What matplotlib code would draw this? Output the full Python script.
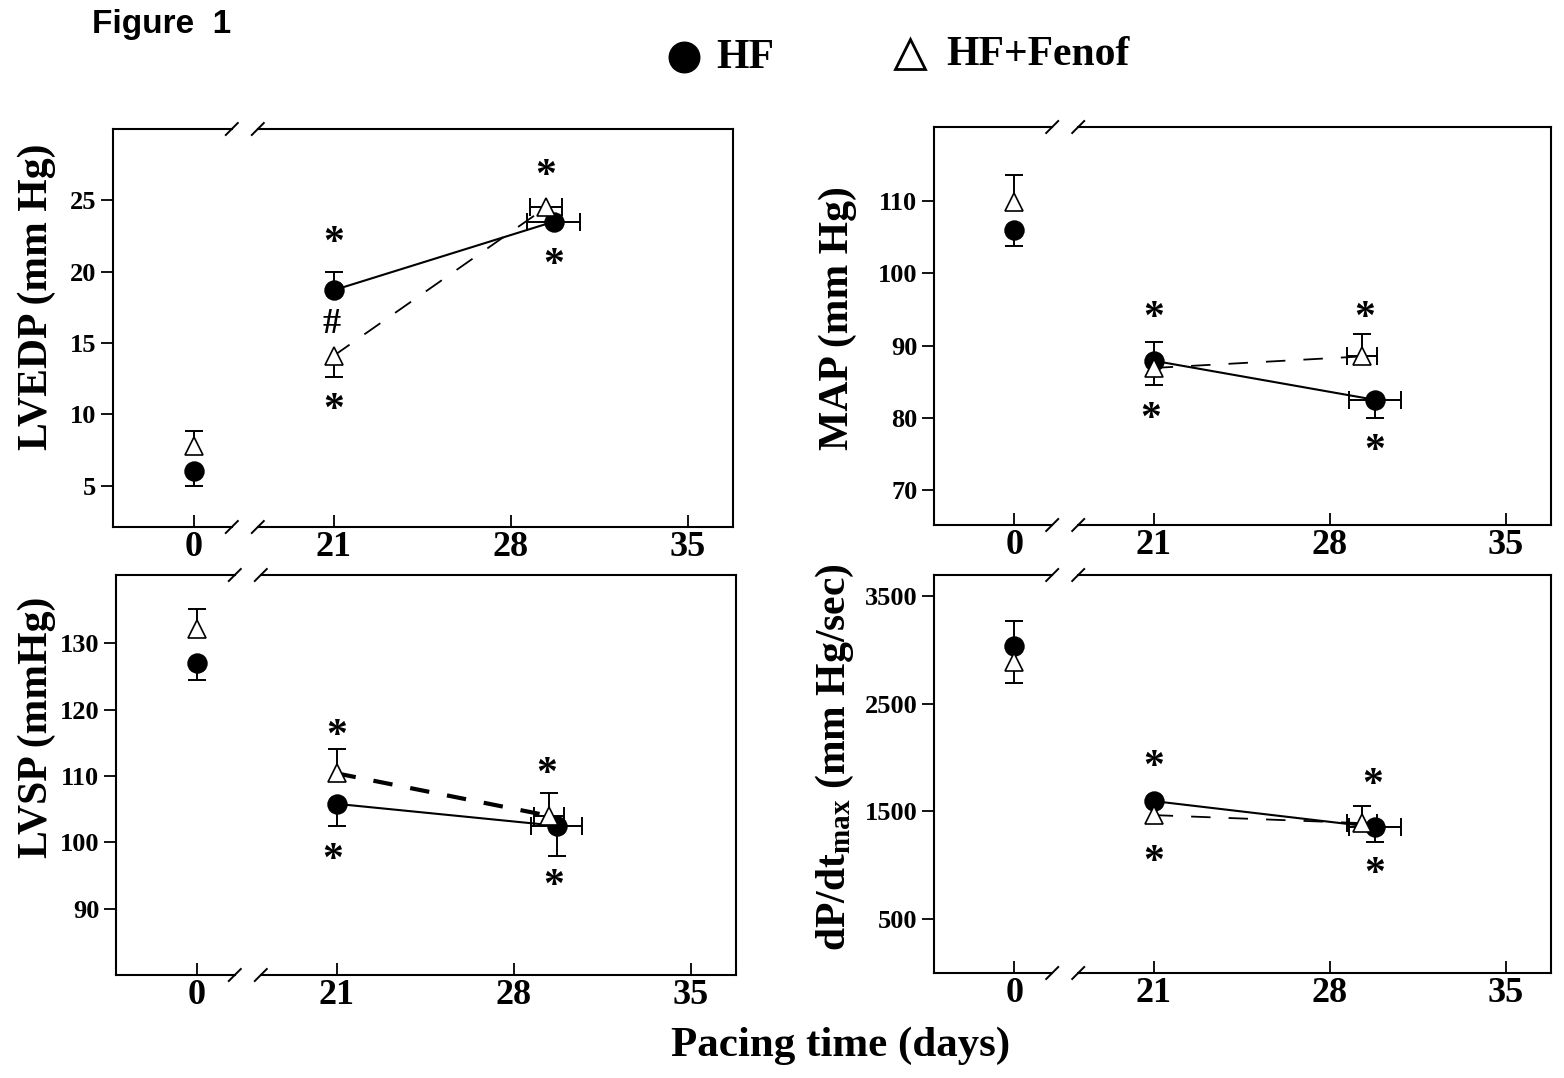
import matplotlib
matplotlib.use('Agg')
import matplotlib.pyplot as plt
from matplotlib.lines import Line2D

plt.rcParams['font.family'] = 'Liberation Serif'
plt.rcParams['font.weight'] = 'bold'
plt.rcParams['mathtext.fontset'] = 'custom'
plt.rcParams['mathtext.rm'] = 'Liberation Serif:bold'
plt.rcParams['mathtext.it'] = 'Liberation Serif:bold'
plt.rcParams['mathtext.bf'] = 'Liberation Serif:bold'

W, H = 1564, 1078

#%% Datos
# LVEDP
lvedp_dias_hf = [0, 21, 29.7]
lvedp_hf = [6.0, 18.7, 23.5]
lvedp_hf_lo = [1.0, 0, 0]
lvedp_hf_up = [0, 1.3, 0]
lvedp_hf_xe = [0, 0, 1.05]
lvedp_dias_fen = [0, 21, 29.4]
lvedp_fen = [7.8, 14.1, 24.5]
lvedp_fen_lo = [0, 1.5, 0]
lvedp_fen_up = [1.0, 0, 0]
lvedp_fen_xe = [0, 0, 0.65]

# MAP
map_dias_hf = [0, 21, 29.8]
map_hf = [106.0, 87.9, 82.5]
map_hf_lo = [2.3, 0, 2.5]
map_hf_up = [0, 2.6, 0]
map_hf_xe = [0, 0, 1.05]
map_dias_fen = [0, 21, 29.3]
map_fen = [109.8, 86.9, 88.5]
map_fen_lo = [0, 2.3, 0]
map_fen_up = [3.7, 0, 3.1]
map_fen_xe = [0, 0, 0.6]

# LVSP
lvsp_dias_hf = [0, 21, 29.7]
lvsp_hf = [127.0, 105.8, 102.5]
lvsp_hf_lo = [2.6, 3.3, 4.6]
lvsp_hf_up = [0, 0, 0]
lvsp_hf_xe = [0, 0, 1.0]
lvsp_dias_fen = [0, 21, 29.4]
lvsp_fen = [132.1, 110.4, 104.0]
lvsp_fen_lo = [0, 0, 0]
lvsp_fen_up = [3.0, 3.6, 3.4]
lvsp_fen_xe = [0, 0, 0.6]

# dP/dt max
dpdt_dias_hf = [0, 21, 29.8]
dpdt_hf = [3035, 1596, 1354]
dpdt_hf_lo = [0, 0, 140]
dpdt_hf_up = [230, 0, 0]
dpdt_hf_xe = [0, 0, 1.05]
dpdt_dias_fen = [0, 21, 29.3]
dpdt_fen = [2886, 1466, 1391]
dpdt_fen_lo = [190, 0, 0]
dpdt_fen_up = [0, 0, 158]
dpdt_fen_xe = [0, 0, 0.6]

# Marcas de significancia (x, y, simbolo)
lvedp_marcas = [(21, 22.5, '*'), (20.9, 16.3, '#'), (21, 10.8, '*'),
                (29.4, 27.2, '*'), (29.7, 21.0, '*')]
map_marcas = [(21, 94.8, '*'), (20.9, 80.8, '*'), (29.4, 94.8, '*'), (29.8, 76.4, '*')]
lvsp_marcas = [(21, 117.2, '*'), (20.85, 98.5, '*'), (29.3, 111.4, '*'), (29.6, 94.5, '*')]
dpdt_marcas = [(21, 1976, '*'), (21, 1094, '*'), (29.7, 1809, '*'), (29.8, 983, '*')]

xticks_izq = [0]
xticks_der = [21, 28, 35]

fig = plt.figure(figsize=(W / 100, H / 100), dpi=100)


def ejes(L, R, T, B, ylim, yticks):
    gap = 26
    w = R - L - gap
    wl = w * 4.7 / 23.5
    ax1 = fig.add_axes([L / W, 1 - B / H, wl / W, (B - T) / H])
    ax2 = fig.add_axes([(L + wl + gap) / W, 1 - B / H, (w - wl) / W, (B - T) / H], sharey=ax1)
    ax1.set_xlim(-3.2, 1.5)
    ax2.set_xlim(18, 36.8)
    ax1.set_ylim(*ylim)
    ax1.set_yticks(yticks)
    ax1.set_xticks(xticks_izq)
    ax2.set_xticks(xticks_der)
    ax1.spines['right'].set_visible(False)
    ax2.spines['left'].set_visible(False)
    for ax in (ax1, ax2):
        for s in ax.spines.values():
            s.set_linewidth(1.5)
        ax.tick_params(axis='x', direction='in', length=9, width=1.3, labelsize=26, pad=3)
        ax.tick_params(axis='y', direction='out', length=9, width=1.3, labelsize=19, pad=3)
    ax2.tick_params(axis='y', left=False, labelleft=False)
    # marcas de corte del eje
    for ax, xs in ((ax1, 1.0), (ax2, 0.0)):
        for yy in (0, 1):
            xd = 6.0 / ax.bbox.width
            yd = 6.0 / ax.bbox.height
            ax.plot([xs - xd, xs + xd], [yy - yd, yy + yd], transform=ax.transAxes,
                    color='k', lw=1.4, clip_on=False)
    return ax1, ax2


def barras(ax, x, y, lo, up, xe):
    if up > 0:
        ax.vlines(x, y, y + up, color='k', lw=1.4, zorder=2)
        ax.plot(x, y + up, marker='_', ms=13, mew=1.4, color='k', zorder=2)
    if lo > 0:
        ax.vlines(x, y - lo, y, color='k', lw=1.4, zorder=2)
        ax.plot(x, y - lo, marker='_', ms=13, mew=1.4, color='k', zorder=2)
    if xe > 0:
        ax.hlines(y, x - xe, x + xe, color='k', lw=1.4, zorder=2)
        ax.plot([x - xe, x + xe], [y, y], ls='none', marker='|', ms=13, mew=1.4,
                color='k', zorder=2)


def serie(ax1, ax2, dias, vals, lo, up, xe, marker, mfc, ls, lw):
    linea, = ax2.plot(dias[1:], vals[1:], color='k', ls=ls, lw=lw, zorder=3)
    if ls == '--':
        linea.set_dashes([14.0 / lw, 13.0 / lw])
    for i in range(len(dias)):
        ax = ax1 if dias[i] < 10 else ax2
        barras(ax, dias[i], vals[i], lo[i], up[i], xe[i])
        ax.plot(dias[i], vals[i], ls='none', marker=marker, ms=13.5 if marker == 'o' else 12.5,
                mfc=mfc, mec='k', mew=1.2, zorder=4)


def panel(frame, ylim, yticks, hf, fen, marcas, fen_lw, ylabel, ylab_xy):
    ax1, ax2 = ejes(*frame, ylim, yticks)
    serie(ax1, ax2, *hf, 'o', 'k', '-', 1.5)
    serie(ax1, ax2, *fen, '^', 'white', '--', fen_lw)
    for (x, y, s) in marcas:
        if s == '*':
            ax2.annotate(s, (x, y), xytext=(0, -6), textcoords='offset points',
                         ha='center', va='center', fontsize=30, fontweight='bold')
        else:
            ax2.annotate(s, (x, y), ha='center', va='center', fontsize=26,
                         fontweight='bold')
    fig.text(ylab_xy[0] / W, 1 - ylab_xy[1] / H, ylabel, rotation=90, ha='center',
             va='center', fontsize=30, fontweight='bold')
    return ax1, ax2


panel((113, 733, 129, 527), (2.1, 30), [5, 10, 15, 20, 25],
      (lvedp_dias_hf, lvedp_hf, lvedp_hf_lo, lvedp_hf_up, lvedp_hf_xe),
      (lvedp_dias_fen, lvedp_fen, lvedp_fen_lo, lvedp_fen_up, lvedp_fen_xe),
      lvedp_marcas, 1.3, 'LVEDP (mm Hg)', (37, 297))

panel((934, 1551, 127, 525), (65.2, 120.2), [70, 80, 90, 100, 110],
      (map_dias_hf, map_hf, map_hf_lo, map_hf_up, map_hf_xe),
      (map_dias_fen, map_fen, map_fen_lo, map_fen_up, map_fen_xe),
      map_marcas, 1.3, 'MAP (mm Hg)', (838, 318))

panel((116, 736, 575, 975), (80, 140.3), [90, 100, 110, 120, 130],
      (lvsp_dias_hf, lvsp_hf, lvsp_hf_lo, lvsp_hf_up, lvsp_hf_xe),
      (lvsp_dias_fen, lvsp_fen, lvsp_fen_lo, lvsp_fen_up, lvsp_fen_xe),
      lvsp_marcas, 3.0, 'LVSP (mmHg)', (37, 727))

panel((934, 1551, 575, 973), (0, 3695), [500, 1500, 2500, 3500],
      (dpdt_dias_hf, dpdt_hf, dpdt_hf_lo, dpdt_hf_up, dpdt_hf_xe),
      (dpdt_dias_fen, dpdt_fen, dpdt_fen_lo, dpdt_fen_up, dpdt_fen_xe),
      dpdt_marcas, 1.3, r'dP/dt$_{\mathrm{max}}$ (mm Hg/sec)', (835, 757))

# Leyenda y textos generales
fig.add_artist(Line2D([684 / W], [1 - 57 / H], marker='o', ms=22, color='k', ls='none'))
fig.text(716 / W, 1 - 58 / H, 'HF', ha='left', va='center', fontsize=30, fontweight='bold')
fig.add_artist(Line2D([910 / W], [1 - 54 / H], marker='^', ms=22, mfc='white', mec='k',
                      mew=2, ls='none'))
fig.text(946 / W, 1 - 55 / H, 'HF+Fenof', ha='left', va='center', fontsize=30,
         fontweight='bold')

fig.text(92 / W, 1 - 24 / H, 'Figure  1', ha='left', va='center', fontsize=24,
         fontweight='bold', family='Liberation Sans')
fig.text(841 / W, 1 - 1046 / H, 'Pacing time (days)', ha='center', va='center',
         fontsize=31, fontweight='bold')

fig.savefig('out.png', dpi=100)
